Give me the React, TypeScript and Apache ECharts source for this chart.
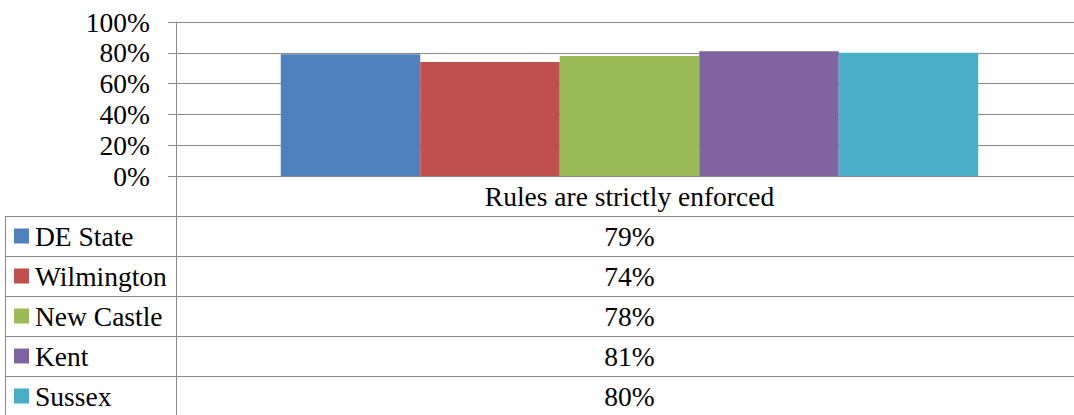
import React, { useEffect, useRef } from "react";
import * as echarts from "echarts";

const categories = ["Rules are strictly enforced"];
const seriesNames = ["DE State", "Wilmington", "New Castle", "Kent", "Sussex"];
const seriesValues = [79, 74, 78, 81, 80];
const seriesColors = ["#4F81BD", "#C0504D", "#9BBB59", "#8064A2", "#4BACC6"];
const yTicks = [0, 20, 40, 60, 80, 100];

const W = 1074;
const CW = 1083; // chart canvas is a little wider than the visible window (plot area cropped at right)
const H = 415;
const FONT = "Liberation Serif";
const FS = 27.5;
const LINE = "#898989";

export default function App() {
  const ref = useRef<HTMLDivElement>(null);
  useEffect(() => {
    if (!ref.current) return;
    const chart = echarts.init(ref.current, undefined, { renderer: "svg" });
    const gridLeft = 176;
    const gridTop = 22;
    const gridBottomY = 176;
    const rowH = 40;
    const tableTop = gridBottomY + rowH + 0.5;
    const centerX = (gridLeft + CW) / 2;

    const graphics: any[] = [];
    graphics.push({
      type: "line",
      shape: { x1: gridLeft + 0.5, y1: gridBottomY, x2: gridLeft + 0.5, y2: H },
      style: { stroke: LINE, lineWidth: 1 },
    });
    graphics.push({
      type: "line",
      shape: { x1: 5.5, y1: tableTop, x2: 5.5, y2: H },
      style: { stroke: LINE, lineWidth: 1 },
    });
    seriesNames.forEach((name, i) => {
      const y = tableTop + rowH * i;
      graphics.push({
        type: "line",
        shape: { x1: 5, y1: y, x2: CW, y2: y },
        style: { stroke: LINE, lineWidth: 1 },
      });
      graphics.push({
        type: "text",
        x: centerX,
        y: y + rowH / 2,
        style: {
          text: `${seriesValues[i]}%`,
          fill: "#000",
          fontFamily: FONT,
          fontSize: FS,
          align: "center",
          verticalAlign: "middle",
        },
      });
    });

    chart.setOption({
      animation: false,
      grid: { left: gridLeft, right: 0, top: gridTop, bottom: H - gridBottomY, containLabel: false },
      legend: {
        orient: "vertical",
        left: 14,
        top: 217.5,
        padding: 0,
        itemGap: 3,
        itemWidth: 15,
        itemHeight: 15,
        selectedMode: false,
        icon: "rect",
        data: seriesNames,
        textStyle: { fontFamily: FONT, fontSize: FS, color: "#000", lineHeight: 37, padding: [0, 0, 0, 1] },
      },
      xAxis: {
        type: "category",
        data: categories,
        axisLine: { show: true, lineStyle: { color: LINE, width: 1 } },
        axisTick: { show: false },
        axisLabel: { fontFamily: FONT, fontSize: FS, color: "#000", margin: 0, lineHeight: rowH },
      },
      yAxis: {
        type: "value",
        min: 0,
        max: yTicks[yTicks.length - 1],
        interval: yTicks[1] - yTicks[0],
        axisLine: { show: true, lineStyle: { color: LINE, width: 1 } },
        axisTick: { show: true, length: 8, lineStyle: { color: LINE } },
        splitLine: { show: true, lineStyle: { color: LINE, width: 1 } },
        axisLabel: { fontFamily: FONT, fontSize: FS, color: "#000", margin: 26, formatter: "{value}%" },
      },
      series: seriesNames.map((name, i) => ({
        name,
        type: "bar",
        data: [seriesValues[i]],
        itemStyle: { color: seriesColors[i] },
        barGap: "0%",
        barCategoryGap: "23.1%",
      })),
      graphic: graphics,
    });
    return () => chart.dispose();
  }, []);
  return (
    <div
      style={{ position: "fixed", left: 0, top: 0, width: W, height: H, overflow: "hidden", background: "#fff" }}
    >
      <div ref={ref} style={{ width: CW, height: H }} />
    </div>
  );
}
